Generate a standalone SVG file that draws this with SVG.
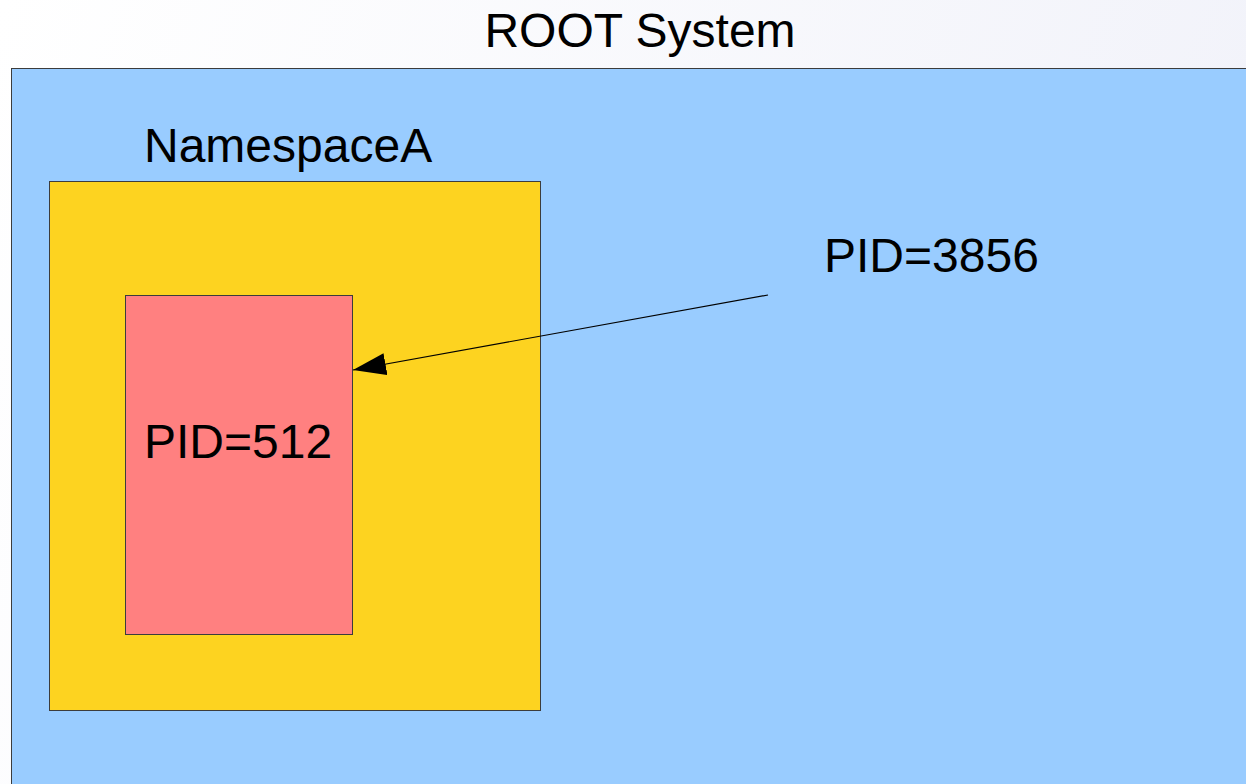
<svg xmlns="http://www.w3.org/2000/svg" width="1246" height="784" viewBox="0 0 1246 784">
  <defs>
    <linearGradient id="pageBg" x1="0" y1="0" x2="1" y2="0.2">
      <stop offset="0" stop-color="#ffffff"/>
      <stop offset="1" stop-color="#f2f3fa"/>
    </linearGradient>
    <marker id="arrowHead" viewBox="0 0 33 22" refX="33" refY="11" markerWidth="33" markerHeight="22" markerUnits="userSpaceOnUse" orient="auto">
      <path d="M33,11 L0,0 L0,22 Z" fill="#000"/>
    </marker>
    <style>
      .label { font-family: "Liberation Sans", Arial, sans-serif; font-size: 48px; fill: #000; }
      .box { stroke: #3c3c3c; stroke-width: 1; }
      .link { stroke: #000; stroke-width: 1.2; fill: none; }
    </style>
  </defs>

  <!-- page background -->
  <rect x="0" y="0" width="1246" height="784" fill="url(#pageBg)"/>

  <!-- outer system area -->
  <g id="root-system">
    <rect class="box" x="11.5" y="68.5" width="1250" height="730" fill="#99ccff"/>
    <text class="label" x="640" y="47" text-anchor="middle">ROOT System</text>
  </g>

  <!-- namespace container -->
  <g id="namespace-a">
    <rect class="box" x="49.5" y="181.5" width="491" height="529" fill="#fdd320"/>
    <text class="label" x="144" y="162">NamespaceA</text>
  </g>

  <!-- process inside the namespace -->
  <g id="pid-512">
    <rect class="box" x="125.5" y="295.5" width="227" height="339" fill="#ff8080"/>
    <text class="label" x="144" y="458">PID=512</text>
  </g>

  <!-- same process as seen from the root -->
  <g id="pid-3856">
    <text class="label" x="824" y="272">PID=3856</text>
  </g>

  <g id="connectors">
    <line class="link" x1="768" y1="295" x2="353" y2="370" marker-end="url(#arrowHead)"/>
  </g>
</svg>
